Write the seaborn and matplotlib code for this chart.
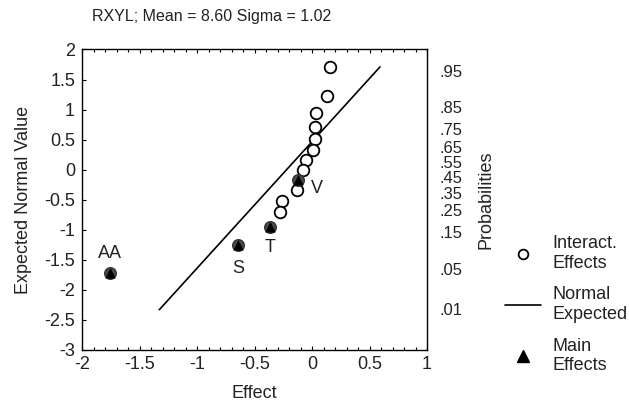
import numpy as np
import pandas as pd
import seaborn as sns
import matplotlib.pyplot as plt
from matplotlib.lines import Line2D
from matplotlib.ticker import MultipleLocator

# interaction effects (open circles)
inter_effect = [0.157, 0.128, 0.032, 0.026, 0.026, 0.011, -0.052, -0.081, -0.133, -0.263, -0.278]
inter_expected = [1.71, 1.225, 0.94, 0.71, 0.51, 0.325, 0.16, -0.01, -0.33, -0.525, -0.71]

# main effects (filled triangles)
main_names = ['V', 'T', 'S', 'AA']
main_effect = [-0.119, -0.365, -0.646, -1.757]
main_expected = [-0.175, -0.95, -1.25, -1.72]

# normal expected line
line_effect = [-1.328, 0.591]
line_expected = [-2.33, 1.71]

# right axis probabilities and their normal quantiles
prob_labels = ['.01', '.05', '.15', '.25', '.35', '.45', '.55', '.65', '.75', '.85', '.95']
prob_z = [-2.326, -1.645, -1.036, -0.674, -0.385, -0.126, 0.126, 0.385, 0.674, 1.036, 1.645]

sns.set_style('ticks')
plt.rcParams['font.family'] = ['Liberation Sans', 'DejaVu Sans']
plt.rcParams['font.size'] = 13
txt = '#222222'
fs = 13

inter = pd.DataFrame({'effect': inter_effect, 'expected': inter_expected})
main = pd.DataFrame({'effect': main_effect, 'expected': main_expected, 'name': main_names})
line = pd.DataFrame({'effect': line_effect, 'expected': line_expected})

fig = plt.figure(figsize=(6.29, 4.01), dpi=100)
ax = fig.add_axes([0.1304, 0.1272, 0.5485, 0.7494])

sns.lineplot(data=line, x='effect', y='expected', color='black', linewidth=1.2, ax=ax)
sns.scatterplot(data=inter, x='effect', y='expected', marker='o', s=70,
                facecolor='white', edgecolor='black', linewidth=1.3, ax=ax, zorder=3)
sns.scatterplot(data=main, x='effect', y='expected', marker='o', s=70,
                color='#4a4a4a', edgecolor='#333333', linewidth=1, ax=ax, zorder=3)
sns.scatterplot(data=main, x='effect', y='expected', marker='^', s=45,
                color='black', edgecolor='black', linewidth=0.5, ax=ax, zorder=4)

# point labels (offsets in data units)
offsets = {'V': (0.11, -0.14, 'left', 'center'),
           'T': (0.0, -0.2, 'center', 'top'),
           'S': (0.0, -0.26, 'center', 'top'),
           'AA': (0.0, 0.18, 'center', 'bottom')}
for n, xe, ye in zip(main_names, main_effect, main_expected):
    dx, dy, ha, va = offsets[n]
    ax.text(xe + dx, ye + dy, n, ha=ha, va=va, fontsize=fs, color=txt)

ax.set_xlim(-2, 1)
ax.set_ylim(-3, 2)
ax.xaxis.set_major_locator(MultipleLocator(0.5))
ax.xaxis.set_minor_locator(MultipleLocator(0.1))
ax.yaxis.set_major_locator(MultipleLocator(0.5))
ax.xaxis.set_major_formatter(plt.FuncFormatter(lambda v, p: f'{v:g}'))
ax.yaxis.set_major_formatter(plt.FuncFormatter(lambda v, p: f'{v:g}'))
ax.tick_params(which='both', direction='in', top=True, right=True, colors='black',
               labelcolor=txt, labelsize=fs, width=0.8)
ax.tick_params(which='major', length=3)
ax.tick_params(which='minor', length=2)
ax.tick_params(axis='y', which='both', right=True, labelright=False, pad=5)
ax.tick_params(axis='x', pad=4)
for s in ax.spines.values():
    s.set_linewidth(1.0)
    s.set_color('black')

ax.set_xlabel('Effect', fontsize=fs, color=txt, labelpad=9)
ax.set_ylabel('Expected Normal Value', fontsize=fs, color=txt, labelpad=9)

# probability axis on the right
ax2 = ax.twinx()
ax2.set_ylim(-3, 2)
ax2.set_yticks(prob_z)
ax2.set_yticklabels(prob_labels)
ax2.tick_params(axis='y', length=0, pad=9, labelsize=12, labelcolor=txt)
ax2.set_ylabel('Probabilities', fontsize=fs, color=txt, labelpad=11)
for s in ax2.spines.values():
    s.set_visible(False)

fig.text(212 / 629, 1 - 16 / 401, 'RXYL; Mean = 8.60 Sigma = 1.02', ha='center', va='center',
         fontsize=11.5, color=txt)

handles = [
    Line2D([], [], marker='o', linestyle='none', markerfacecolor='white', markeredgecolor='black',
           markersize=7, markeredgewidth=1.3),
    Line2D([], [], color='black', linewidth=1.2),
    Line2D([], [], marker='^', linestyle='none', color='black', markersize=8),
]
fig.legend(handles, ['Interact.\nEffects', 'Normal\nExpected', 'Main\nEffects'],
           loc='center left', bbox_to_anchor=(0.803, 0.24), frameon=False, fontsize=fs,
           handlelength=2.0, labelspacing=0.8, handletextpad=0.6, labelcolor=txt,
           borderaxespad=0, borderpad=0)

fig.savefig('out.png', dpi=100)
